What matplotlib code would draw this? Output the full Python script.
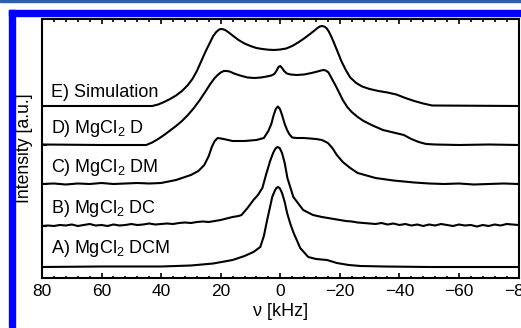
import numpy as np
import matplotlib
matplotlib.use("Agg")
import matplotlib.pyplot as plt
from matplotlib.patches import Rectangle

plt.rcParams['font.family'] = ['Liberation Sans', 'DejaVu Sans']
plt.rcParams['mathtext.fontset'] = 'custom'
plt.rcParams['mathtext.rm'] = 'Liberation Sans'
plt.rcParams['mathtext.it'] = 'Liberation Sans:italic'

# spectra: frequency (kHz) and intensity above each trace's own baseline (a.u.)
nu_A = [80, 60, 40, 30, 22.5, 16, 12, 9, 6.7, 5.5, 4.4, 3.5, 2.7, 1.8, 1.3, 0.7, 0.1, -0.6,
        -1.5, -2.3, -3.4, -4.5, -6.7, -9.4, -12, -15.7, -19, -23, -27, -35, -50, -65, -80]
int_A = [0, 0.5, 0.5, 1.5, 3.5, 7, 11, 15, 20, 31, 47, 59, 70, 76.5, 79, 80, 78.5, 74,
         65, 54, 43, 34, 19, 10, 8, 7, 4, 2, 1, 0.5, 0, 0, 0]

nu_B = [80, 78, 76, 74, 72, 70, 68, 66, 64, 62, 60, 58, 56, 54, 52, 50, 48, 46, 44, 42,
        40, 38, 36, 34, 32, 30, 28, 26, 24, 22, 20, 18, 16, 14, 13, 11, 9, 7.5, 6, 4.7,
        3.4, 2.4, 1.6, 0.9, 0.2, -0.6, -1.5, -2.4, -4.4, -7.7, -11, -14, -16, -18, -20, -22,
        -24, -26, -28, -30, -32, -34, -36, -38, -40, -42, -44, -46, -48, -50, -52, -54,
        -56, -58, -60, -62, -64, -66, -68, -70, -72, -74, -76, -78, -80]
int_B = [0, 0.5, 0, 1, 0.5, 1.5, 0, 1, 2, 0.5, 1, 0, 1.5, 0.5, 1, 2, 1, 1.5, 2.5, 1.5,
         2, 2.5, 2, 3, 3.5, 3, 4, 4.5, 4, 5, 6, 7.5, 9, 10, 11, 18, 26, 31, 38, 52,
         65, 73, 77.5, 79, 78, 73, 63, 48, 29, 16, 11, 9, 8, 7, 6, 5,
         4.5, 3.5, 3, 2.5, 2, 3, 1.5, 2.5, 1, 2, 0.5, 1.5, 0, 1.5, 0.5, 2,
         1, 0, 1.5, 0.5, 1, -0.5, 1, 0, 1.5, 0.5, 2, 1.5, 1]

nu_C = [80, 76, 72, 68, 64, 60, 56, 52, 48, 44, 40, 35, 30, 27.5, 25.5, 24, 23, 22, 21, 19,
        16, 12, 8, 5.5, 4, 3, 2.2, 1.5, 0.8, 0.1, -0.6, -1.5, -2.3, -3, -4, -5.5, -8, -12,
        -14, -16, -17.5, -19, -21, -23.5, -26, -32, -38, -45, -50, -55, -60, -65, -70, -75, -80]
int_C = [0, 0.5, -0.5, 0.5, 0, 1, 0, 0.5, 1, 0.5, 1, 4, 9, 13, 19, 28, 37, 43, 46, 45,
         43, 43, 44, 46, 53, 60, 69, 75, 77.5, 75, 69, 60, 54, 50, 46.5, 46, 46, 45,
         44, 41, 36, 29, 22, 16, 11, 6, 3.5, 1.5, 0.5, 0, 0.5, -0.5, 0, 0.5, 0]

nu_D = [80, 60, 45, 43, 41, 39, 37, 35, 33, 31, 29, 27, 25, 23.5, 22, 21, 20, 19, 18, 17,
        15.5, 13.5, 11, 8.5, 6.5, 4.5, 3, 2, 1.3, 0.6, 0, -0.6, -1.3, -2.2, -3.5, -5.5, -8,
        -10.5, -12.5, -13.7, -14.5, -15.3, -16.2, -17.2, -18.3, -19.5, -21, -22.5, -24, -26,
        -28, -31, -34.5, -38, -41.5, -44, -46.5, -49, -52, -60, -70, -80]
int_D = [0.5, 0, 0, 2.5, 6, 10, 14.5, 19, 24, 30, 37, 45, 54, 61, 67, 70, 72.5, 74, 74, 73.5,
         71.5, 69.5, 67.5, 67, 67.5, 68.5, 69.5, 71, 74, 78, 79, 77, 74, 71.5, 70.5, 70, 70.5,
         72, 73.5, 74.5, 75, 74.5, 72.5, 67, 61, 54, 45, 38, 33, 28,
         24, 19.5, 15, 12.5, 10, 6, 3, 1, 0.5, 0, 0.5, 0]

nu_E = [80, 43, 41, 39, 37, 35, 33, 31, 29.5, 28, 26.5, 25, 23.5, 22.5, 21.5, 20.5, 20, 19.3,
        18.5, 17.5, 16, 14, 12, 10, 8, 6, 4, 2, 0, -2, -4, -6, -8, -10, -11.5, -12.5, -13.3,
        -14, -14.7, -15.5, -16.3, -17.2, -18.2, -19.3, -20.5, -22, -23.5, -25.5, -27.5, -30,
        -33, -36, -39, -42, -45, -48, -51, -80]
int_E = [0, 0, 1.5, 4, 7, 10.5, 15, 21, 27, 35, 45, 55, 64, 70, 74, 76.5, 77, 76.8,
         76, 74, 70.5, 66, 62.5, 60, 58, 57, 56.3, 56, 56.5, 57.5, 60, 63.5, 67.5, 72, 75.5, 78, 79.5,
         80, 79.6, 78, 74.5, 69, 62, 54, 45, 36, 28.5, 23, 19.5, 17,
         15, 13.5, 11.5, 8, 5, 2.5, 0.5, 0]

spectra = [(nu_A, int_A), (nu_B, int_B), (nu_C, int_C), (nu_D, int_D), (nu_E, int_E)]
offsets = [11, 52, 94, 133, 172]
labels = ['A) MgCl$_2$ DCM', 'B) MgCl$_2$ DC', 'C) MgCl$_2$ DM', 'D) MgCl$_2$ D', 'E) Simulation']
label_pad = [14, 13, 12, 12, 9]

fig = plt.figure(figsize=(5.21, 3.28), dpi=100)
ax = fig.add_axes([42/521, 50/328, 476.5/521, 259/328])

for (nu, inten), off in zip(spectra, offsets):
    ax.plot(nu, np.array(inten) + off, color='black', lw=1.5, solid_joinstyle='round')

for lab, off, pad in zip(labels, offsets, label_pad):
    ax.text(77, off + pad, lab, fontsize=13, ha='left', va='baseline')

ax.set_xlim(80, -80)
ax.set_ylim(0, 259)
ax.set_xticks([80, 60, 40, 20, 0, -20, -40, -60, -80])
ax.set_xticks(np.arange(-80, 81, 4), minor=True)
ax.set_yticks(offsets)
ax.set_yticklabels([])
ax.tick_params(axis='x', which='both', direction='in', top=True, labelsize=12.5, pad=4.5)
ax.tick_params(axis='x', which='major', length=3.6, width=1.2)
ax.tick_params(axis='x', which='minor', length=1.8, width=1.2)
ax.tick_params(axis='y', direction='in', length=3.6, width=1.2)
for s in ax.spines.values():
    s.set_linewidth(1.5)

ax.set_xlabel('ν [kHz]', fontsize=13)
ax.xaxis.set_label_coords(0.5, -0.095)
ax.xaxis.label.set_va('top')
ax.set_ylabel('Intensity [a.u.]', fontsize=12.7)
ax.yaxis.set_label_coords(-0.018, 0.5)

# blue frame around the figure
fig.patches.append(Rectangle((0, 326/328), 1, 2/328, transform=fig.transFigure,
                             color='#2b62a3', zorder=0))
fig.patches.append(Rectangle((9/521, (328-16)/328), (521-9)/521, 6/328,
                             transform=fig.transFigure, color='#0000ff', zorder=0))
fig.patches.append(Rectangle((9/521, 1/328), 6/521, 317/328,
                             transform=fig.transFigure, color='#0000ff', zorder=0))

fig.savefig('out.png', dpi=100)
